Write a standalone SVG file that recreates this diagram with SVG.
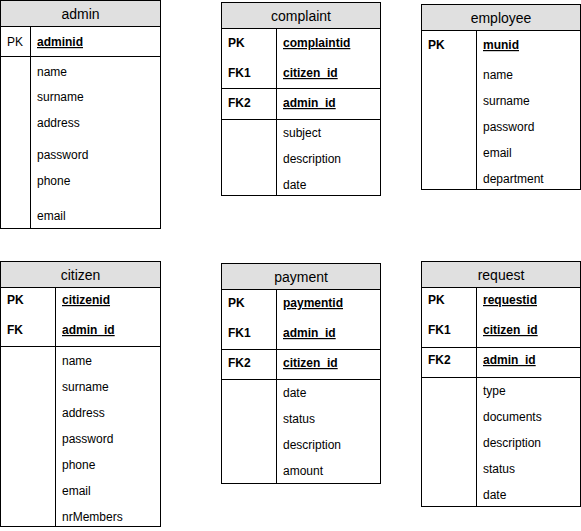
<svg xmlns="http://www.w3.org/2000/svg" width="581" height="531" viewBox="0 0 581 531">
<style>
  .box { fill: #ffffff; stroke: #000000; stroke-width: 1; }
  .head { fill: #e0e0e0; stroke: #000000; stroke-width: 1; }
  .ln { stroke: #000000; stroke-width: 1; fill: none; }
  text { font-family: "Liberation Sans", Arial, sans-serif; font-size: 12px; fill: #000000; }
  .title { font-size: 14px; text-anchor: middle; }
  .key { font-weight: bold; }
  .pkey { font-weight: bold; text-decoration: underline; }
</style>
<rect width="581" height="531" fill="#ffffff"/>

<!-- admin -->
<g id="admin">
  <rect class="box" x="0.5" y="0.5" width="160" height="228"/>
  <rect class="head" x="0.5" y="0.5" width="160" height="26"/>
  <line class="ln" x1="30.5" y1="26.5" x2="30.5" y2="228.5"/>
  <line class="ln" x1="0.5" y1="56.5" x2="160.5" y2="56.5"/>
  <text class="title" x="80.5" y="19">admin</text>
  <text x="7" y="46">PK</text>
  <text class="pkey" x="37" y="46">adminid</text>
  <text x="37" y="76">name</text>
  <text x="37" y="101">surname</text>
  <text x="37" y="127">address</text>
  <text x="37" y="159">password</text>
  <text x="37" y="185">phone</text>
  <text x="37" y="220">email</text>
</g>

<!-- complaint -->
<g id="complaint">
  <rect class="box" x="221.5" y="2.5" width="159" height="193"/>
  <rect class="head" x="221.5" y="2.5" width="159" height="26"/>
  <line class="ln" x1="276.5" y1="28.5" x2="276.5" y2="195.5"/>
  <line class="ln" x1="221.5" y1="88.5" x2="380.5" y2="88.5"/>
  <line class="ln" x1="221.5" y1="119.5" x2="380.5" y2="119.5"/>
  <text class="title" x="301" y="21">complaint</text>
  <text class="key" x="228" y="47">PK</text>
  <text class="pkey" x="283" y="47">complaintid</text>
  <text class="key" x="228" y="77">FK1</text>
  <text class="pkey" x="283" y="77">citizen_id</text>
  <text class="key" x="228" y="107">FK2</text>
  <text class="pkey" x="283" y="107">admin_id</text>
  <text x="283" y="137">subject</text>
  <text x="283" y="163">description</text>
  <text x="283" y="189">date</text>
</g>

<!-- employee -->
<g id="employee">
  <rect class="box" x="421.5" y="4.5" width="159" height="185"/>
  <rect class="head" x="421.5" y="4.5" width="159" height="26"/>
  <line class="ln" x1="476.5" y1="30.5" x2="476.5" y2="189.5"/>
  <text class="title" x="501" y="23">employee</text>
  <text class="key" x="428" y="49">PK</text>
  <text class="pkey" x="483" y="49">munid</text>
  <text x="483" y="79">name</text>
  <text x="483" y="105">surname</text>
  <text x="483" y="131">password</text>
  <text x="483" y="157">email</text>
  <text x="483" y="183">department</text>
</g>

<!-- citizen -->
<g id="citizen">
  <rect class="box" x="0.5" y="261.5" width="160" height="265"/>
  <rect class="head" x="0.5" y="261.5" width="160" height="26"/>
  <line class="ln" x1="55.5" y1="287.5" x2="55.5" y2="526.5"/>
  <line class="ln" x1="0.5" y1="346.5" x2="160.5" y2="346.5"/>
  <text class="title" x="80.5" y="280">citizen</text>
  <text class="key" x="7" y="304">PK</text>
  <text class="pkey" x="62" y="304">citizenid</text>
  <text class="key" x="7" y="334">FK</text>
  <text class="pkey" x="62" y="334">admin_id</text>
  <text x="62" y="365">name</text>
  <text x="62" y="391">surname</text>
  <text x="62" y="417">address</text>
  <text x="62" y="443">password</text>
  <text x="62" y="469">phone</text>
  <text x="62" y="495">email</text>
  <text x="62" y="521">nrMembers</text>
</g>

<!-- payment -->
<g id="payment">
  <rect class="box" x="221.5" y="263.5" width="159" height="220"/>
  <rect class="head" x="221.5" y="263.5" width="159" height="26"/>
  <line class="ln" x1="276.5" y1="289.5" x2="276.5" y2="483.5"/>
  <line class="ln" x1="221.5" y1="349.5" x2="380.5" y2="349.5"/>
  <line class="ln" x1="221.5" y1="379.5" x2="380.5" y2="379.5"/>
  <text class="title" x="301" y="282">payment</text>
  <text class="key" x="228" y="307">PK</text>
  <text class="pkey" x="283" y="307">paymentid</text>
  <text class="key" x="228" y="337">FK1</text>
  <text class="pkey" x="283" y="337">admin_id</text>
  <text class="key" x="228" y="367">FK2</text>
  <text class="pkey" x="283" y="367">citizen_id</text>
  <text x="283" y="397">date</text>
  <text x="283" y="423">status</text>
  <text x="283" y="449">description</text>
  <text x="283" y="475">amount</text>
</g>

<!-- request -->
<g id="request">
  <rect class="box" x="421.5" y="261.5" width="159" height="245"/>
  <rect class="head" x="421.5" y="261.5" width="159" height="26"/>
  <line class="ln" x1="476.5" y1="287.5" x2="476.5" y2="506.5"/>
  <line class="ln" x1="421.5" y1="347.5" x2="580.5" y2="347.5"/>
  <line class="ln" x1="421.5" y1="377.5" x2="580.5" y2="377.5"/>
  <text class="title" x="501" y="280">request</text>
  <text class="key" x="428" y="304">PK</text>
  <text class="pkey" x="483" y="304">requestid</text>
  <text class="key" x="428" y="334">FK1</text>
  <text class="pkey" x="483" y="334">citizen_id</text>
  <text class="key" x="428" y="364">FK2</text>
  <text class="pkey" x="483" y="364">admin_id</text>
  <text x="483" y="395">type</text>
  <text x="483" y="421">documents</text>
  <text x="483" y="447">description</text>
  <text x="483" y="473">status</text>
  <text x="483" y="499">date</text>
</g>
</svg>
